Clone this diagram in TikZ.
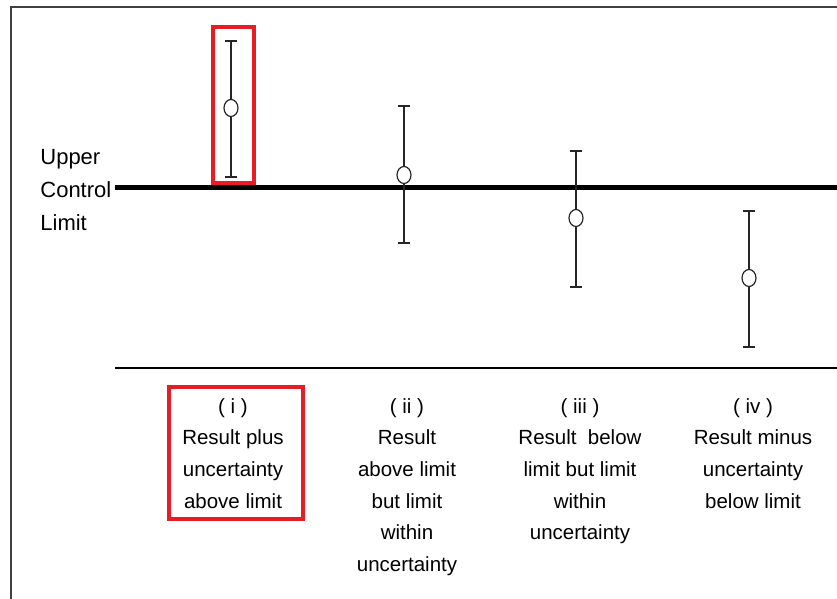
\documentclass[tikz,border=0pt]{standalone}
\usepackage{fontspec}
\setmainfont{Liberation Sans}
\usetikzlibrary{shapes.geometric}
\definecolor{boxred}{RGB}{232,28,36}
\begin{document}
\begin{tikzpicture}[x=0.5pt,y=-0.5pt,
  barline/.style={line width=0.75pt, black!85},
  pt/.style={draw=black!85, line width=0.6pt, fill=white, ellipse, minimum width=7pt, minimum height=8.5pt, inner sep=0pt},
  redbox/.style={draw=boxred, line width=2pt},
  lab/.style={align=center, anchor=north, inner sep=0pt, font=\fontsize{10.25}{15.8}\selectfont},
  side/.style={align=left, anchor=west, inner sep=0pt, font=\fontsize{11}{16.5}\selectfont}]
\useasboundingbox (0,0) rectangle (837,599);
% frame
\draw[line width=0.75pt, black!75] (837,7) -- (11,7) -- (11,599);
% upper control limit label
\node[side] (ucl) at (40,190) {Upper\\Control\\Limit};
\coordinate (limL) at (115,188);
\coordinate (limR) at (837,188);
\draw[line width=2.5pt] (limL) -- (limR);
\coordinate (axL) at (115,368);
\coordinate (axR) at (837,368);
\draw[line width=0.6pt] (axL) -- (axR);
% error bars
\foreach \n/\x/\t/\c/\b in {1/231/41/108/177, 2/404/106/175/243, 3/576/151/218/287, 4/749/211/278/347}{
  \coordinate (t\n) at (\x,\t);
  \coordinate (b\n) at (\x,\b);
  \draw[barline] (t\n) -- (b\n);
  \draw[barline] ([xshift=-3pt]t\n) -- ([xshift=3pt]t\n);
  \draw[barline] ([xshift=-3pt]b\n) -- ([xshift=3pt]b\n);
  \node[pt] (p\n) at (\x,\c) {};
}
% red boxes
\draw[redbox] (213,27) rectangle (254,183);
\draw[redbox] (169,387) rectangle (303,519);
% labels
\node[lab] (l1) at (233,398) {( i )\\Result plus\\uncertainty\\above limit};
\node[lab] (l2) at (407,398) {( ii )\\Result\\above limit\\but limit\\within\\uncertainty};
\node[lab] (l3) at (580,398) {( iii )\\Result\ \ below\\limit but limit\\within\\uncertainty};
\node[lab] (l4) at (753,398) {( iv )\\Result minus\\uncertainty\\below limit};
\end{tikzpicture}
\end{document}
